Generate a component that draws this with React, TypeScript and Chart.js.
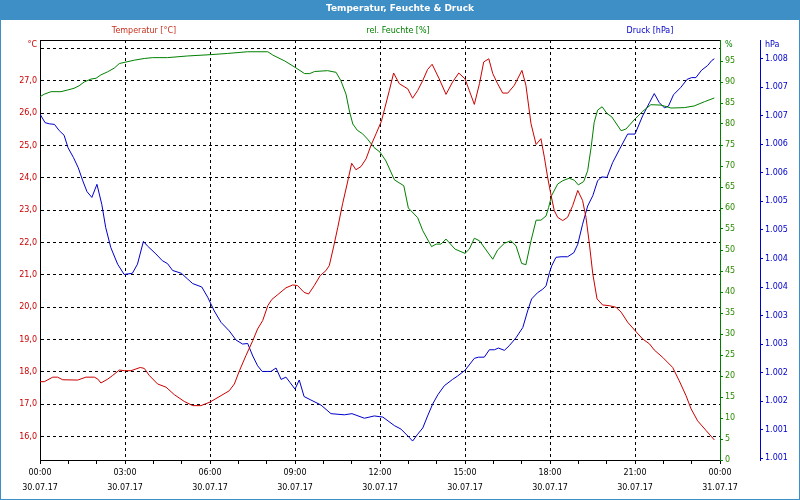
import { useEffect, useRef } from 'react';
import { Chart, registerables } from 'chart.js';

Chart.register(...registerables);

const FONT = "'DejaVu Sans', sans-serif";
const BAR = '#3d8fc6';
const RED = '#cc0000';
const GREEN = '#008000';
const BLUE = '#0000cc';

const chartTitle = 'Temperatur, Feuchte & Druck';
const seriesLabels = ['Temperatur [°C]', 'rel. Feuchte [%]', 'Druck [hPa]'];
const unitLabels = ['°C', '%', 'hPa'];

const xTickTimes = ['00:00', '03:00', '06:00', '09:00', '12:00', '15:00', '18:00', '21:00', '00:00'];
const xTickDates = ['30.07.17', '30.07.17', '30.07.17', '30.07.17', '30.07.17', '30.07.17', '30.07.17', '30.07.17', '31.07.17'];
const hourTicks = [0, 1, 2, 3, 4, 5, 6, 7, 8, 9, 10, 11, 12, 13, 14, 15, 16, 17, 18, 19, 20, 21, 22, 23, 24];
const tempTicks = [16, 17, 18, 19, 20, 21, 22, 23, 24, 25, 26, 27, 28];
const humTicks = [0, 5, 10, 15, 20, 25, 30, 35, 40, 45, 50, 55, 60, 65, 70, 75, 80, 85, 90, 95];
const presTicks = [1000.6, 1001.1, 1001.6, 1002.1, 1002.6, 1003.1, 1003.6, 1004.1, 1004.6, 1005.1, 1005.6, 1006.1, 1006.6, 1007.1, 1007.6];

const tempHours = [0, 0.15, 0.45, 0.62, 0.8, 1.33, 1.62, 1.92, 2.04, 2.15, 2.39, 2.56, 2.8, 2.98, 3.21, 3.54, 3.68, 3.86, 4.15, 4.45, 4.74, 5.09, 5.39, 5.68, 6.0, 6.39, 6.68, 6.86, 7.04, 7.27, 7.51, 7.68, 7.86, 8.04, 8.18, 8.39, 8.68, 8.92, 9.09, 9.32, 9.48, 9.68, 9.89, 10.09, 10.21, 10.36, 10.51, 10.68, 10.84, 11.0, 11.15, 11.33, 11.51, 11.68, 11.86, 12.05, 12.33, 12.48, 12.68, 12.98, 13.15, 13.33, 13.51, 13.68, 13.84, 14.09, 14.33, 14.56, 14.78, 15.0, 15.15, 15.33, 15.51, 15.66, 15.84, 15.98, 16.15, 16.33, 16.51, 16.74, 17.01, 17.15, 17.33, 17.51, 17.68, 17.8, 17.92, 18.04, 18.15, 18.27, 18.45, 18.62, 18.8, 18.98, 19.15, 19.27, 19.39, 19.51, 19.66, 19.86, 20.09, 20.33, 20.51, 20.74, 21.0, 21.27, 21.51, 21.68, 21.98, 22.33, 22.56, 22.8, 22.98, 23.21, 23.51, 23.8];
const tempValues = [17.7, 17.7, 17.84, 17.84, 17.76, 17.75, 17.84, 17.84, 17.78, 17.66, 17.78, 17.89, 18.06, 18.04, 18.04, 18.14, 18.11, 17.89, 17.63, 17.53, 17.3, 17.09, 16.96, 16.96, 17.07, 17.27, 17.42, 17.63, 18.04, 18.51, 18.97, 19.33, 19.59, 20.05, 20.24, 20.39, 20.6, 20.69, 20.67, 20.46, 20.41, 20.67, 20.98, 21.13, 21.29, 21.86, 22.47, 23.2, 23.81, 24.45, 24.25, 24.35, 24.59, 25.0, 25.36, 25.75, 26.7, 27.24, 26.91, 26.75, 26.46, 26.7, 27.01, 27.35, 27.51, 27.06, 26.58, 26.96, 27.24, 27.06, 26.7, 26.27, 26.91, 27.58, 27.68, 27.22, 26.91, 26.62, 26.62, 26.86, 27.32, 26.86, 25.67, 25.03, 25.21, 24.64, 24.0, 23.45, 22.99, 22.78, 22.68, 22.78, 23.14, 23.61, 23.3, 22.78, 21.96, 21.03, 20.26, 20.07, 20.05, 20.0, 19.85, 19.54, 19.28, 19.02, 18.87, 18.68, 18.45, 18.14, 17.73, 17.27, 16.86, 16.49, 16.19, 15.9];

const humHours = [0, 0.15, 0.39, 0.74, 0.98, 1.2, 1.38, 1.56, 1.8, 1.98, 2.15, 2.38, 2.62, 2.8, 3.0, 3.33, 3.68, 3.98, 4.5, 5.21, 6.0, 6.62, 7.33, 8.04, 8.22, 8.64, 9.0, 9.34, 9.52, 9.69, 10.15, 10.45, 10.62, 10.8, 10.92, 11.04, 11.2, 11.38, 11.56, 11.79, 12.0, 12.21, 12.51, 12.84, 13.0, 13.33, 13.51, 13.82, 13.98, 14.15, 14.33, 14.65, 15.0, 15.15, 15.33, 15.51, 15.98, 16.15, 16.39, 16.62, 16.8, 17.0, 17.15, 17.33, 17.51, 17.68, 17.86, 17.95, 18.06, 18.27, 18.45, 18.68, 18.86, 19.0, 19.19, 19.33, 19.45, 19.56, 19.68, 19.84, 20.01, 20.18, 20.51, 20.68, 21.0, 21.27, 21.56, 21.92, 22.27, 22.74, 23.09, 23.45, 23.8];
const humValues = [86.5, 87.1, 87.7, 87.7, 88.1, 88.5, 89.1, 90.0, 90.7, 90.9, 91.7, 92.4, 93.3, 94.4, 94.7, 95.2, 95.6, 95.8, 95.8, 96.2, 96.5, 96.8, 97.2, 97.2, 96.4, 95.0, 93.5, 92.0, 92.0, 92.5, 92.7, 92.3, 90.3, 87.1, 83.1, 80.0, 78.5, 77.7, 76.4, 74.4, 73.3, 71.2, 66.7, 65.3, 60.0, 57.7, 54.6, 50.8, 51.4, 51.4, 52.6, 50.2, 49.2, 50.2, 52.8, 52.2, 47.8, 50.0, 51.6, 52.2, 51.0, 46.8, 46.5, 52.2, 57.1, 57.1, 58.1, 60.1, 63.0, 65.7, 66.5, 67.1, 66.6, 65.5, 66.3, 68.9, 74.4, 80.4, 83.3, 84.1, 82.5, 81.7, 78.4, 78.8, 81.2, 83.0, 84.6, 84.5, 83.8, 83.9, 84.3, 85.3, 86.2];

const presHours = [0, 0.18, 0.33, 0.51, 0.68, 0.85, 0.99, 1.18, 1.35, 1.51, 1.66, 1.83, 2.01, 2.18, 2.32, 2.5, 2.74, 2.97, 3.26, 3.44, 3.65, 3.79, 4.09, 4.32, 4.5, 4.68, 4.99, 5.21, 5.39, 5.71, 5.92, 6.15, 6.39, 6.68, 6.92, 7.15, 7.33, 7.51, 7.68, 7.84, 8.15, 8.33, 8.51, 8.68, 8.82, 9.0, 9.15, 9.32, 9.56, 9.92, 10.27, 10.74, 11.01, 11.45, 11.8, 12.1, 12.51, 12.74, 13.04, 13.15, 13.33, 13.51, 13.68, 13.86, 14.04, 14.27, 14.56, 14.74, 15.0, 15.33, 15.48, 15.68, 15.86, 16.04, 16.18, 16.39, 16.56, 16.8, 17.04, 17.21, 17.35, 17.56, 17.74, 17.86, 17.98, 18.06, 18.21, 18.39, 18.62, 18.84, 18.98, 19.15, 19.33, 19.51, 19.68, 19.82, 20.01, 20.21, 20.45, 20.74, 21.0, 21.27, 21.51, 21.68, 21.86, 22.04, 22.18, 22.36, 22.62, 22.84, 23.0, 23.15, 23.35, 23.56, 23.71, 23.8];
const presValues = [1006.63, 1006.48, 1006.46, 1006.45, 1006.34, 1006.26, 1006.04, 1005.87, 1005.69, 1005.46, 1005.27, 1005.17, 1005.4, 1005.05, 1004.64, 1004.29, 1004.0, 1003.82, 1003.84, 1004.0, 1004.4, 1004.32, 1004.18, 1004.06, 1004.01, 1003.89, 1003.84, 1003.74, 1003.66, 1003.6, 1003.42, 1003.18, 1002.98, 1002.83, 1002.67, 1002.6, 1002.61, 1002.39, 1002.22, 1002.12, 1002.12, 1002.18, 1001.98, 1002.02, 1001.93, 1001.81, 1001.97, 1001.68, 1001.62, 1001.53, 1001.38, 1001.36, 1001.38, 1001.3, 1001.34, 1001.32, 1001.17, 1001.11, 1000.96, 1000.9, 1001.02, 1001.13, 1001.34, 1001.55, 1001.71, 1001.87, 1001.98, 1002.04, 1002.14, 1002.35, 1002.37, 1002.37, 1002.5, 1002.5, 1002.53, 1002.49, 1002.57, 1002.71, 1002.89, 1003.18, 1003.39, 1003.5, 1003.56, 1003.62, 1003.85, 1003.97, 1004.12, 1004.13, 1004.13, 1004.2, 1004.35, 1004.7, 1005.02, 1005.2, 1005.46, 1005.53, 1005.52, 1005.78, 1006.01, 1006.28, 1006.28, 1006.6, 1006.83, 1006.99, 1006.83, 1006.74, 1006.77, 1006.97, 1007.1, 1007.24, 1007.27, 1007.27, 1007.4, 1007.48, 1007.57, 1007.6];

const toPoints = (xs: number[], ys: number[]) => xs.map((x, i) => ({ x, y: ys[i] }));

const fmtTemp = (v: number) => v.toFixed(1).replace('.', ',');
const fmtPres = (v: number) => {
  const r = Math.round(v);
  return Math.floor(r / 1000) + '.' + String(r % 1000).padStart(3, '0');
};

const decorPlugin = {
  id: 'decor',
  beforeDraw(chart: any) {
    const { ctx, width, height } = chart;
    ctx.save();
    ctx.fillStyle = '#ffffff';
    ctx.fillRect(0, 0, width, height);
    ctx.fillStyle = BAR;
    ctx.fillRect(0, 0, width, 20);
    ctx.restore();
  },
  afterDraw(chart: any) {
    const { ctx, chartArea, width, height } = chart;
    ctx.save();
    ctx.strokeStyle = '#000';
    ctx.lineWidth = 1;
    ctx.beginPath();
    ctx.moveTo(chartArea.left, chartArea.top + 0.5);
    ctx.lineTo(chartArea.right, chartArea.top + 0.5);
    ctx.stroke();

    ctx.font = `8px ${FONT}`;
    ctx.textBaseline = 'middle';
    ctx.textAlign = 'center';
    const lx = [144, 398, 650];
    const lc = ['#c8301e', GREEN, BLUE];
    seriesLabels.forEach((t, i) => {
      ctx.fillStyle = lc[i];
      ctx.fillText(t, lx[i], 30.5);
    });

    ctx.fillStyle = RED;
    ctx.textAlign = 'right';
    ctx.fillText(unitLabels[0], 37, 45);
    ctx.fillStyle = GREEN;
    ctx.textAlign = 'left';
    ctx.fillText(unitLabels[1], 725, 45);
    ctx.fillStyle = BLUE;
    ctx.fillText(unitLabels[2], 765, 45);

    ctx.strokeStyle = BAR;
    ctx.strokeRect(0.5, 0.5, width - 1, height - 1);
    ctx.restore();
  },
};

export default function App() {
  const ref = useRef<HTMLCanvasElement | null>(null);

  useEffect(() => {
    if (!ref.current) return;
    const tickFont = { family: FONT, size: 8 };
    const chart = new Chart(ref.current, {
      type: 'line',
      data: {
        datasets: [
          { label: seriesLabels[0], data: toPoints(tempHours, tempValues), borderColor: RED, borderWidth: 1, pointRadius: 0, yAxisID: 'yT', xAxisID: 'x', tension: 0 },
          { label: seriesLabels[1], data: toPoints(humHours, humValues), borderColor: GREEN, borderWidth: 1, pointRadius: 0, yAxisID: 'yH', xAxisID: 'x', tension: 0 },
          { label: seriesLabels[2], data: toPoints(presHours, presValues), borderColor: BLUE, borderWidth: 1, pointRadius: 0, yAxisID: 'yP', xAxisID: 'x', tension: 0 },
        ],
      },
      options: {
        animation: false,
        responsive: false,
        maintainAspectRatio: false,
        layout: { padding: 0 },
        plugins: {
          legend: { display: false },
          tooltip: { enabled: false },
          title: {
            display: true,
            text: chartTitle,
            color: '#ffffff',
            font: { family: FONT, size: 9, weight: 'bold', lineHeight: 1.2 },
            padding: { top: 3, bottom: 26.2 },
          },
        },
        scales: {
          x: {
            type: 'linear',
            position: 'bottom',
            min: 0,
            max: 24,
            afterFit: (s: any) => { s.height = 40; },
            afterBuildTicks: (s: any) => { s.ticks = hourTicks.map((v) => ({ value: v })); },
            ticks: {
              autoSkip: false,
              maxRotation: 0,
              padding: 2,
              color: '#000',
              font: { family: FONT, size: 8, lineHeight: 1.8 },
              callback: (v: any) => (v % 3 === 0 ? [xTickTimes[v / 3], xTickDates[v / 3]] : ''),
            },
            grid: {
              color: (c: any) => (c.tick && c.tick.value % 3 === 0 && c.tick.value > 0 && c.tick.value < 24 ? '#000' : 'rgba(0,0,0,0)'),
              tickColor: '#000',
              tickLength: 4,
              drawTicks: true,
            },
            border: { display: true, color: '#000', width: 1, dash: [3, 3] },
          },
          yT: {
            type: 'linear',
            position: 'left',
            min: 15.28,
            max: 28.26,
            afterFit: (s: any) => { s.width = 40; },
            afterBuildTicks: (s: any) => { s.ticks = tempTicks.map((v) => ({ value: v })); },
            ticks: {
              color: RED,
              font: tickFont,
              padding: 3,
              callback: (v: any) => (v >= 28 ? '' : fmtTemp(v)),
            },
            grid: { color: '#000', drawTicks: false },
            border: { display: true, color: '#000', width: 1, dash: [3, 3] },
          },
          yH: {
            type: 'linear',
            position: 'right',
            weight: 0,
            min: 0,
            max: 100,
            afterFit: (s: any) => { s.width = 40; },
            afterBuildTicks: (s: any) => { s.ticks = humTicks.map((v) => ({ value: v })); },
            ticks: { color: '#2a8a00', font: tickFont, padding: 2, callback: (v: any) => String(v) },
            grid: { drawOnChartArea: false, drawTicks: true, tickLength: 3, tickColor: GREEN, color: GREEN },
            border: { display: true, color: GREEN, width: 1 },
          },
          yP: {
            type: 'linear',
            position: 'right',
            weight: 1,
            min: 1000.568,
            max: 1007.929,
            afterFit: (s: any) => { s.width = 40; },
            afterBuildTicks: (s: any) => { s.ticks = presTicks.map((v) => ({ value: v })); },
            ticks: { color: BLUE, font: tickFont, padding: 2, callback: (v: any) => fmtPres(v) },
            grid: { drawOnChartArea: false, drawTicks: true, tickLength: 3, tickColor: BLUE, color: BLUE },
            border: { display: true, color: BLUE, width: 1 },
          },
        },
      } as any,
      plugins: [decorPlugin],
    });
    return () => chart.destroy();
  }, []);

  return (
    <div style={{ position: 'fixed', left: 0, top: 0, width: 800, height: 500, background: '#fff' }}>
      <canvas ref={ref} width={800} height={500} style={{ display: 'block', width: 800, height: 500 }} />
    </div>
  );
}
